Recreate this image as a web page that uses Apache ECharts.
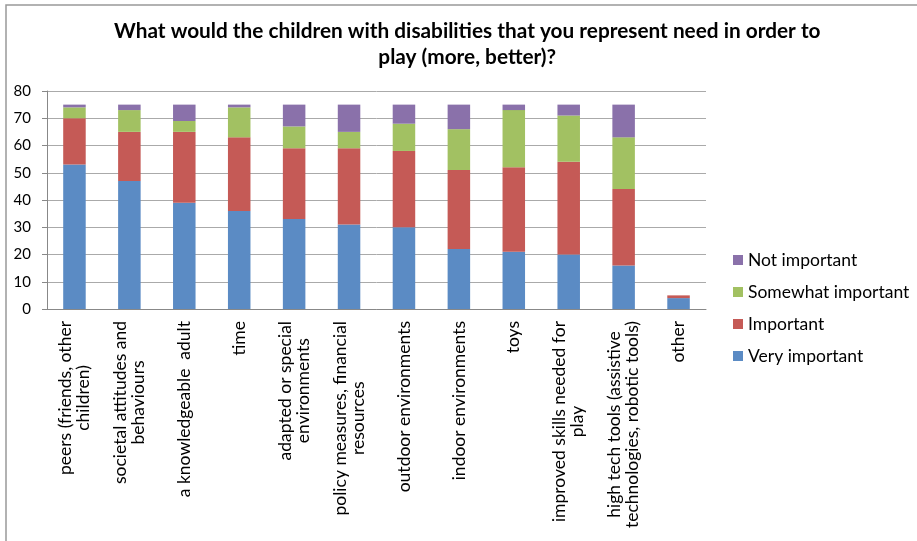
<!DOCTYPE html>
<html>
<head>
<meta charset="utf-8">
<script src="https://cdn.jsdelivr.net/npm/echarts@6/dist/echarts.min.js"></script>
<style>
html,body{margin:0;padding:0;background:#fff;}
#chart{width:917px;height:541px;}
</style>
</head>
<body>
<div id="chart"></div>
<script>
var categories = [
  "peers (friends, other\nchildren)",
  "societal attitudes and\nbehaviours",
  "a knowledgeable  adult",
  "time",
  "adapted or special\nenvironments",
  "policy measures, financial\nresources",
  "outdoor environments",
  "indoor environments",
  "toys",
  "improved skills needed for\nplay",
  "high tech tools (assistive\ntechnologies, robotic tools)",
  "other"
];
var veryImportant     = [53, 47, 39, 36, 33, 31, 30, 22, 21, 20, 16, 4];
var important         = [17, 18, 26, 27, 26, 28, 28, 29, 31, 34, 28, 1];
var somewhatImportant = [4, 8, 4, 11, 8, 6, 10, 15, 21, 17, 19, 0];
var notImportant      = [1, 2, 6, 1, 8, 10, 7, 9, 2, 4, 12, 0];
var yTicks = [0, 10, 20, 30, 40, 50, 60, 70, 80];
var titleLines = ["What would the children with disabilities that you represent need in order to", "play (more, better)?"];

var FONT = "Lato";
var chart = echarts.init(document.getElementById('chart'));
function mk(name, data, color) {
  return {name: name, type: 'bar', stack: 'all', data: data, barWidth: '41%',
          itemStyle: {color: color}, emphasis: {disabled: true}};
}
function richLines(str, key) {
  return str.split('\n').map(function (s) { return '{' + key + '|' + s + '}'; }).join('\n');
}
chart.setOption({
  animation: false,
  title: {
    text: richLines(titleLines.join('\n'), 't'), left: 109, top: 13,
    textStyle: {
      fontFamily: FONT, fontSize: 20.8, fontWeight: 'bold', color: '#000', lineHeight: 26,
      rich: {t: {fontFamily: FONT, fontSize: 20.8, fontWeight: 'bold', color: '#000', lineHeight: 26, align: 'center'}}
    }
  },
  graphic: [{
    type: 'rect', shape: {x: 6, y: 5, width: 930, height: 560},
    style: {fill: 'none', stroke: '#999', lineWidth: 1.5}, silent: true
  }],
  legend: {
    orient: 'vertical', left: 728, top: 246, itemWidth: 10, itemHeight: 10, itemGap: 14,
    icon: 'rect',
    data: ['Not important', 'Somewhat important', 'Important', 'Very important'],
    textStyle: {fontFamily: FONT, fontSize: 17.5, lineHeight: 18, color: '#000'}
  },
  grid: {left: 47, right: 211, top: 91, bottom: 232, outerBoundsMode: 'none', containLabel: false},
  xAxis: {
    type: 'category', data: categories,
    axisLine: {lineStyle: {color: '#888'}},
    axisTick: {show: false},
    axisLabel: {
      rotate: 90, interval: 0, margin: 12, hideOverlap: false,
      formatter: function (v) { return richLines(v, 'c'); },
      rich: {c: {fontFamily: FONT, fontSize: 17.5, color: '#000', align: 'center', lineHeight: 18}}
    }
  },
  yAxis: {
    type: 'value', min: yTicks[0], max: yTicks[yTicks.length - 1], interval: 10,
    axisLine: {show: true, lineStyle: {color: '#888'}},
    axisTick: {show: true, length: 5, lineStyle: {color: '#888'}},
    axisLabel: {fontFamily: FONT, fontSize: 15, color: '#000', margin: 16},
    splitLine: {lineStyle: {color: '#aaa'}}
  },
  series: [
    mk('Very important', veryImportant, '#5b8bc4'),
    mk('Important', important, '#c55a56'),
    mk('Somewhat important', somewhatImportant, '#a2c162'),
    mk('Not important', notImportant, '#8a71aa')
  ]
});
</script>
</body>
</html>
